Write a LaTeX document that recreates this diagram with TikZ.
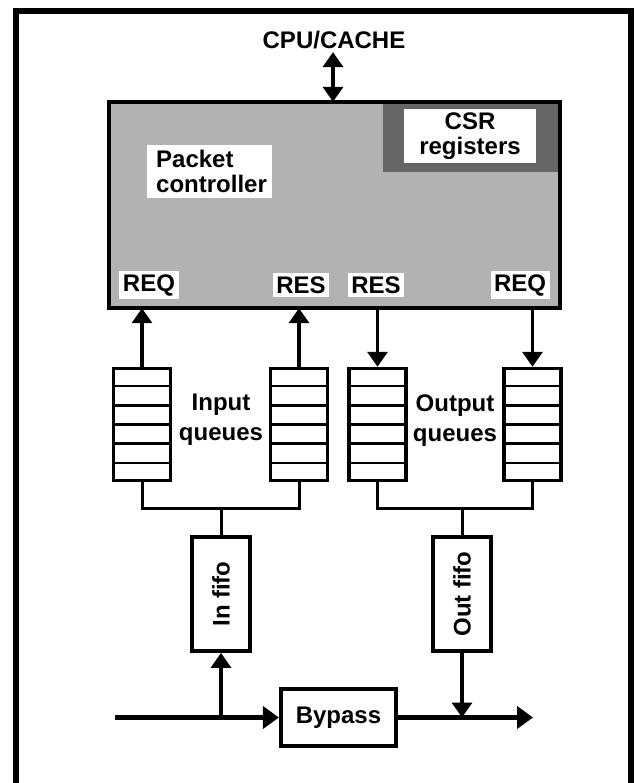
\documentclass[tikz,border=0pt]{standalone}
\usepackage{fontspec}
\setmainfont{Liberation Sans}
\usetikzlibrary{arrows.meta,calc}

\begin{document}
\begin{tikzpicture}[x=1pt,y=-1pt,
  lab/.style={font=\fontsize{24}{25}\selectfont\bfseries, inner sep=0pt},
  whitelab/.style={lab, fill=white, inner sep=3.5pt},
  queue/.style={draw, line width=3.5pt, fill=white, minimum width=57pt, minimum height=112pt, inner sep=0pt},
  slot/.style={line width=2.8pt},
  fifobox/.style={draw, line width=3.8pt, fill=white, minimum width=58pt, minimum height=114pt, inner sep=0pt},
  bypassbox/.style={draw, line width=4.2pt, fill=white, minimum width=115pt, minimum height=57pt, inner sep=0pt},
  link/.style={line width=3pt},
  flow/.style={line width=3.4pt, -{Triangle[width=20pt,length=15pt]}},
  mainflow/.style={line width=4.5pt, -{Triangle[width=22pt,length=16pt]}},
  bus/.style={line width=3.4pt, {Triangle[width=20pt,length=15pt]}-{Triangle[width=20pt,length=15pt]}}
]
\useasboundingbox (0,0) rectangle (634,783);

% outer frame, open at the bottom edge
\draw[line width=6pt] (15.5,800) -- (15.5,11.5) -- (631,11.5) -- (631,800);

% packet controller block with CSR corner
\node[fill=black!30, minimum width=451pt, minimum height=206pt, inner sep=0pt] (pc) at (334.5,205) {};
\fill[black!60] (383,100) rectangle (562,172);
\node[fill=white, minimum width=132pt, minimum height=54pt, inner sep=0pt] (csr) at (470,136) {};
\node[lab, align=center] at (csr) {CSR\\registers};
\draw[line width=4.5pt] (pc.north west) rectangle (pc.south east);

\node[fill=white, minimum width=125pt, minimum height=53pt, inner sep=0pt] (pcl) at (209.5,171.5) {};
\node[lab, align=left, anchor=west] at (156,171) {Packet\\controller};

\node[whitelab] (req1) at (149,285) {REQ};
\node[whitelab] (res1) at (301,285) {RES};
\node[whitelab] (res2) at (376,285) {RES};
\node[whitelab] (req2) at (520,285) {REQ};

% CPU/CACHE bus
\node[lab] (cpu) at (334,40) {CPU/CACHE};
\draw[bus] ([yshift=-3pt,xshift=-1pt]cpu.south) -- ([xshift=-1pt]cpu.south |- pc.north);

% request/response queues
\node[queue] (q1) at (142,424.5) {};
\node[queue] (q2) at (299,424.5) {};
\node[queue] (q3) at (377.5,424.5) {};
\node[queue] (q4) at (532.5,424.5) {};
\foreach \q in {q1,q2,q3,q4}{
  \foreach \k in {1,...,5}{
    \draw[slot] ($(\q.north west)!\k/6!(\q.south west)$) -- ($(\q.north east)!\k/6!(\q.south east)$);
  }
}
\node[lab, align=center] at (221,420) {Input\\[5pt]queues};
\node[lab, align=center] at (455,421) {Output\\[5pt]queues};

\draw[flow] (q1.north) -- (q1.north |- pc.south);
\draw[flow] (q2.north) -- (q2.north |- pc.south);
\draw[flow] (q3.north |- pc.south) -- (q3.north);
\draw[flow] (q4.north |- pc.south) -- (q4.north);

% fifos
\node[fifobox] (infifo) at (221,594) {};
\node[lab, rotate=90] at (infifo) {In fifo};
\node[fifobox] (outfifo) at (462,594) {};
\node[lab, rotate=90] at (outfifo) {Out fifo};

\coordinate (injoin) at (221,508);
\coordinate (outjoin) at (462,508);
\draw[link] (q1.south) |- (injoin) -| (q2.south);
\draw[link] (injoin) -- (infifo.north);
\draw[link] (q3.south) |- (outjoin) -| (q4.south);
\draw[link] (outjoin) -- (outfifo.north);

% bypass path
\node[bypassbox] (bypass) at (338.5,717.5) {};
\node[lab] at (bypass) {Bypass};
\coordinate (src) at (115,717.5);
\coordinate (dst) at (533,717.5);
\draw[mainflow] (src) -- (bypass.west);
\draw[mainflow] (bypass.east) -- (dst);
\draw[flow] (infifo.south |- src) -- (infifo.south);
\draw[flow] (outfifo.south) -- (outfifo.south |- dst);
\end{tikzpicture}
\end{document}
